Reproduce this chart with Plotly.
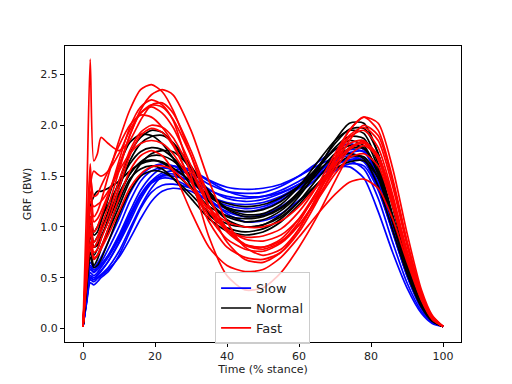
import plotly.graph_objects as go

# Time (% stance) sample points
time_pct = [0, 1, 2, 3, 4, 5, 7, 10, 13, 16, 19, 22, 25, 30, 35, 40, 45, 50,
            55, 60, 65, 70, 74, 78, 82, 86, 90, 94, 97, 100]

# GRF (BW) curves
slow_curves = [
    [0.02,0.30,0.58,0.55,0.58,0.62,0.72,0.92,1.15,1.36,1.50,1.58,1.60,1.56,1.46,1.39,1.37,1.38,1.42,1.50,1.60,1.68,1.72,1.68,1.42,1.00,0.55,0.22,0.08,0.02],
    [0.02,0.28,0.50,0.48,0.52,0.56,0.66,0.85,1.08,1.30,1.45,1.53,1.55,1.52,1.42,1.35,1.33,1.34,1.40,1.50,1.63,1.76,1.82,1.76,1.48,1.04,0.58,0.24,0.09,0.02],
    [0.02,0.32,0.62,0.58,0.60,0.63,0.72,0.90,1.12,1.32,1.45,1.50,1.50,1.45,1.36,1.30,1.28,1.30,1.36,1.45,1.55,1.63,1.65,1.57,1.28,0.85,0.45,0.17,0.06,0.02],
    [0.02,0.25,0.45,0.43,0.46,0.50,0.56,0.72,0.95,1.18,1.34,1.41,1.42,1.38,1.30,1.24,1.22,1.24,1.30,1.40,1.50,1.58,1.59,1.48,1.15,0.75,0.40,0.15,0.05,0.02],
    [0.02,0.26,0.48,0.46,0.49,0.52,0.58,0.70,0.88,1.08,1.25,1.35,1.38,1.35,1.25,1.18,1.15,1.18,1.26,1.38,1.50,1.62,1.68,1.64,1.38,0.95,0.52,0.20,0.07,0.02],
    [0.02,0.30,0.55,0.52,0.55,0.60,0.70,0.88,1.10,1.30,1.43,1.48,1.47,1.38,1.25,1.15,1.10,1.12,1.20,1.33,1.48,1.65,1.76,1.74,1.48,1.04,0.58,0.23,0.08,0.02],
    [0.02,0.32,0.60,0.56,0.60,0.65,0.78,1.00,1.25,1.45,1.55,1.58,1.56,1.45,1.30,1.21,1.18,1.20,1.28,1.40,1.53,1.65,1.70,1.65,1.38,0.96,0.53,0.21,0.07,0.02],
    [0.02,0.28,0.52,0.50,0.53,0.57,0.66,0.84,1.05,1.27,1.43,1.51,1.52,1.44,1.28,1.13,1.05,1.06,1.13,1.26,1.40,1.55,1.62,1.60,1.36,0.95,0.52,0.20,0.07,0.02],
    [0.02,0.35,0.65,0.60,0.64,0.70,0.85,1.08,1.33,1.50,1.59,1.62,1.60,1.50,1.37,1.28,1.25,1.27,1.33,1.42,1.54,1.66,1.73,1.74,1.52,1.08,0.60,0.24,0.08,0.02],
    [0.02,0.28,0.50,0.48,0.50,0.53,0.60,0.76,0.98,1.20,1.38,1.50,1.56,1.55,1.45,1.35,1.30,1.30,1.34,1.42,1.52,1.61,1.66,1.65,1.44,1.02,0.56,0.22,0.08,0.02],
]

normal_curves = [
    [0.02,0.50,0.95,0.80,0.85,0.95,1.15,1.45,1.72,1.88,1.95,1.93,1.82,1.55,1.25,1.07,1.00,1.02,1.12,1.30,1.55,1.85,2.02,2.02,1.72,1.20,0.65,0.25,0.08,0.02],
    [0.02,0.45,0.85,0.72,0.78,0.88,1.08,1.38,1.65,1.82,1.89,1.90,1.83,1.60,1.33,1.17,1.10,1.11,1.19,1.35,1.58,1.82,1.96,1.97,1.72,1.22,0.66,0.26,0.09,0.02],
    [0.02,0.55,1.10,0.95,1.00,1.08,1.22,1.42,1.62,1.74,1.78,1.76,1.68,1.50,1.30,1.19,1.15,1.17,1.25,1.40,1.58,1.76,1.85,1.80,1.52,1.05,0.58,0.23,0.08,0.02],
    [0.02,0.50,1.00,0.85,0.90,0.98,1.12,1.33,1.52,1.64,1.70,1.70,1.65,1.48,1.25,1.10,1.05,1.07,1.16,1.32,1.52,1.72,1.80,1.78,1.52,1.06,0.58,0.23,0.08,0.02],
    [0.02,0.55,1.20,1.30,1.35,1.35,1.38,1.45,1.55,1.62,1.65,1.64,1.58,1.45,1.30,1.23,1.20,1.22,1.29,1.40,1.55,1.68,1.72,1.67,1.40,0.97,0.54,0.21,0.07,0.02],
    [0.02,0.42,0.75,0.62,0.68,0.78,0.98,1.25,1.47,1.57,1.60,1.57,1.48,1.28,1.08,0.96,0.92,0.95,1.05,1.22,1.42,1.60,1.69,1.69,1.48,1.05,0.58,0.23,0.08,0.02],
    [0.02,0.45,0.80,0.68,0.72,0.80,0.95,1.20,1.45,1.62,1.72,1.75,1.74,1.58,1.35,1.18,1.12,1.13,1.22,1.40,1.63,1.85,1.95,1.92,1.62,1.12,0.62,0.25,0.08,0.02],
    [0.02,0.40,0.70,0.60,0.62,0.68,0.85,1.12,1.35,1.50,1.55,1.54,1.48,1.32,1.14,1.03,1.00,1.02,1.10,1.25,1.42,1.57,1.64,1.65,1.48,1.06,0.60,0.24,0.08,0.02],
    [0.02,0.50,0.90,0.80,0.82,0.90,1.05,1.30,1.52,1.63,1.66,1.63,1.55,1.38,1.20,1.11,1.08,1.10,1.18,1.34,1.56,1.78,1.89,1.87,1.58,1.10,0.61,0.24,0.08,0.02],
    [0.02,0.55,1.05,0.92,0.95,1.05,1.28,1.60,1.83,1.91,1.90,1.82,1.68,1.40,1.12,0.99,0.95,0.98,1.08,1.25,1.47,1.67,1.77,1.77,1.55,1.10,0.62,0.25,0.08,0.02],
]

fast_curves = [
    [0.02,1.20,2.65,1.65,1.72,1.88,1.82,1.75,1.85,2.05,2.20,2.22,2.12,1.75,1.30,0.98,0.83,0.80,0.88,1.08,1.35,1.65,1.82,1.85,1.66,1.22,0.70,0.29,0.10,0.02],
    [0.02,0.80,1.62,1.10,1.15,1.25,1.50,1.85,2.15,2.35,2.40,2.33,2.15,1.70,1.20,0.85,0.68,0.65,0.75,0.98,1.30,1.65,1.88,1.95,1.78,1.32,0.76,0.31,0.10,0.02],
    [0.02,0.70,1.35,1.05,1.08,1.15,1.32,1.60,1.90,2.15,2.30,2.35,2.30,1.95,1.45,1.05,0.80,0.72,0.78,0.98,1.30,1.68,1.95,2.08,1.95,1.48,0.86,0.35,0.12,0.02],
    [0.02,0.65,1.20,0.95,1.00,1.10,1.30,1.65,1.98,2.18,2.25,2.20,2.05,1.50,0.90,0.52,0.38,0.40,0.55,0.80,1.10,1.45,1.70,1.80,1.68,1.26,0.74,0.30,0.10,0.02],
    [0.02,0.70,1.40,1.55,1.52,1.50,1.55,1.72,1.95,2.12,2.20,2.18,2.06,1.70,1.28,0.98,0.82,0.78,0.85,1.05,1.35,1.68,1.90,1.98,1.85,1.40,0.82,0.33,0.11,0.02],
    [0.02,0.60,1.10,0.85,0.90,1.00,1.20,1.55,1.90,2.12,2.18,2.12,1.98,1.60,1.20,0.95,0.82,0.80,0.86,1.02,1.26,1.52,1.68,1.72,1.60,1.20,0.70,0.29,0.10,0.02],
    [0.02,0.55,1.00,0.80,0.85,0.95,1.12,1.45,1.75,1.93,2.00,1.98,1.88,1.55,1.20,0.98,0.88,0.86,0.92,1.08,1.32,1.60,1.78,1.84,1.70,1.28,0.75,0.31,0.10,0.02],
    [0.02,0.55,0.95,0.75,0.78,0.88,1.05,1.38,1.70,1.90,1.97,1.93,1.80,1.45,1.10,0.88,0.78,0.76,0.84,1.02,1.28,1.56,1.76,1.83,1.70,1.28,0.75,0.31,0.10,0.02],
    [0.02,0.50,0.85,0.70,0.72,0.78,0.92,1.15,1.38,1.52,1.59,1.60,1.56,1.38,1.18,1.05,1.00,1.00,1.06,1.20,1.40,1.62,1.78,1.82,1.68,1.26,0.74,0.30,0.10,0.02],
    [0.02,0.45,0.80,0.68,0.72,0.80,0.98,1.28,1.55,1.70,1.75,1.70,1.55,1.15,0.80,0.62,0.56,0.58,0.70,0.90,1.12,1.32,1.44,1.47,1.38,1.08,0.66,0.28,0.09,0.02],
    [0.02,0.75,1.50,1.30,1.32,1.40,1.55,1.80,2.00,2.10,2.08,1.98,1.82,1.45,1.05,0.80,0.70,0.68,0.75,0.95,1.25,1.60,1.85,2.00,1.90,1.45,0.85,0.35,0.12,0.02],
    [0.02,0.65,1.25,1.20,1.22,1.25,1.35,1.55,1.72,1.82,1.85,1.82,1.72,1.45,1.15,0.97,0.90,0.91,0.98,1.15,1.40,1.72,1.95,2.08,2.02,1.58,0.94,0.38,0.13,0.02],
]

groups = [("Slow", "#0000ff", slow_curves),
          ("Normal", "#000000", normal_curves),
          ("Fast", "#ff0000", fast_curves)]

x_ticks = [0, 20, 40, 60, 80, 100]
y_ticks = [0.0, 0.5, 1.0, 1.5, 2.0, 2.5]

fig = go.Figure()
for name, color, curves in groups:
    for i, ys in enumerate(curves):
        fig.add_trace(go.Scatter(
            x=time_pct, y=ys, mode="lines", name=name,
            line=dict(color=color, width=1.7, shape="spline", smoothing=0.7),
            showlegend=(i == 0), legendgroup=name))

axis_common = dict(showgrid=False, zeroline=False, showline=True, mirror=True,
                   linecolor="black", linewidth=1, ticks="outside", ticklen=4,
                   tickcolor="black", automargin=False,
                   tickfont=dict(family="DejaVu Sans", size=11, color="#222"))

fig.update_layout(
    width=504, height=376,
    margin=dict(l=57, r=51, t=38, b=42),
    plot_bgcolor="white", paper_bgcolor="white",
    font=dict(family="DejaVu Sans", size=11, color="#222"),
    xaxis=dict(range=[-5, 105], tickvals=x_ticks,
               title=dict(text="Time (% stance)", standoff=3, font=dict(size=11)),
               **axis_common),
    yaxis=dict(range=[-0.133, 2.78], tickvals=y_ticks, tickformat=".1f",
               title=dict(text="GRF (BW)", standoff=6, font=dict(size=11)),
               **axis_common),
    legend=dict(x=0.379, y=0.236, xanchor="left", yanchor="top",
                bgcolor="rgba(255,255,255,0.8)", bordercolor="#cccccc", borderwidth=1,
                font=dict(family="DejaVu Sans", size=13, color="#222"),
                tracegroupgap=0, itemwidth=30),
    showlegend=True,
)

fig.write_html("out.html")
